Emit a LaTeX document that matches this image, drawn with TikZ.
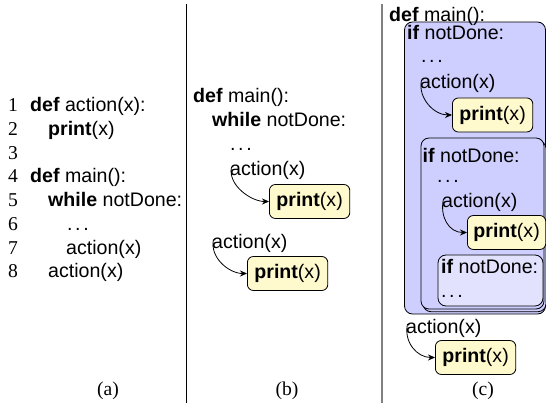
\documentclass[tikz,border=0pt]{standalone}
\usepackage{fontspec}
\setmainfont{Liberation Serif}
\setsansfont{Liberation Sans}
\usetikzlibrary{arrows.meta}

\definecolor{printfill}{RGB}{255,250,205}
\definecolor{loopfill}{RGB}{206,206,255}
\definecolor{innerfill}{RGB}{226,226,255}
\newcommand{\kw}[1]{\textbf{#1}}
\newcommand{\codesize}{\fontsize{19.6}{23.5}\selectfont}
\newcommand{\elided}{.\kern2.6pt.\kern2.6pt.}

\begin{document}
\begin{tikzpicture}[x=1pt,y=-1pt,
  every node/.style={inner sep=0pt},
  code/.style={anchor=base west, font=\sffamily\codesize},
  lineno/.style={anchor=base west, font=\rmfamily\codesize},
  caption/.style={anchor=base, font=\rmfamily\codesize},
  printbox/.style={draw, line width=0.8pt, rounded corners=6pt, fill=printfill,
    font=\sffamily\codesize, inner xsep=7pt, minimum height=34pt, anchor=west},
  call/.style={-{Stealth[length=7pt,width=6pt]}, line width=0.8pt},
  loopbox/.style={draw, line width=0.8pt, rounded corners=8pt},
  separator/.style={line width=1.3pt},
]
\useasboundingbox (0,0) rectangle (546,403);

% ---------- (a) source listing ----------
\foreach \n/\y in {1/111.7,2/135.5,3/159.2,4/183,5/206.7,6/230.5,7/254.2,8/278}
  \node[lineno] (ln\n) at (8,\y) {\n};
\node[code] (a1) at (30,111.7) {\kw{def} action(x):};
\node[code] (a2) at (48,135.5) {\kw{print}(x)};
\node[code] (a4) at (30,183)   {\kw{def} main():};
\node[code] (a5) at (48,206.7) {\kw{while} notDone:};
\node[code] (a6) at (67,230.5) {\elided};
\node[code] (a7) at (66,254.2) {action(x)};
\node[code] (a8) at (48,278)   {action(x)};

% ---------- (b) inlined calls ----------
\node[code] (b1) at (193,102.5) {\kw{def} main():};
\node[code] (b2) at (212,127)   {\kw{while} notDone:};
\node[code] (b3) at (230,151)   {\elided};
\node[code] (bact1) at (230,176) {action(x)};
\node[printbox] (bp1) at (269,201.5) {\kw{print}(x)};
\node[code] (bact2) at (212,248.5) {action(x)};
\node[printbox] (bp2) at (247,273.5) {\kw{print}(x)};
\draw[call] ([shift={(1.5,-9)}]bact1.base west) .. controls +(-4,18) and +(-18,0) .. (bp1.west);
\draw[call] ([shift={(1.5,-9)}]bact2.base west) .. controls +(-4,18) and +(-18,0) .. (bp2.west);

% ---------- (c) unrolled loop ----------
\draw[loopbox, fill=loopfill] (404.5,22) rectangle (545.5,314);
\draw[loopbox, fill=loopfill] (423,140.7) rectangle (546,311.7);
\draw[loopbox, fill=loopfill] (421,138) rectangle (544,309);
\draw[loopbox, fill=innerfill] (438,255) rectangle (543,306);

\node[code] (c0) at (389,21.5) {\kw{def} main():};
\node[code] (c1) at (407,40)   {\kw{if} notDone:};
\node[code] (c2) at (421,63)   {\elided};
\node[code] (cact1) at (420,89) {action(x)};
\node[printbox] (cp1) at (452,115) {\kw{print}(x)};
\node[code] (c3) at (422.5,163) {\kw{if} notDone:};
\node[code] (c4) at (437,182.7) {\elided};
\node[code] (cact2) at (442,208) {action(x)};
\node[printbox, inner xsep=6pt] (cp2) at (467,232.5) {\kw{print}(x)};
\node[code] (c5) at (441,273) {\kw{if} notDone:};
\node[code] (c6) at (441,298) {\elided};
\node[code] (cact3) at (406,333) {action(x)};
\node[printbox] (cp3) at (435,357.5) {\kw{print}(x)};
\draw[call] ([shift={(1.5,-9)}]cact1.base west) .. controls +(-4,18) and +(-18,0) .. (cp1.west);
\draw[call] ([shift={(1.5,-9)}]cact2.base west) .. controls +(-4,18) and +(-18,0) .. (cp2.west);
\draw[call] ([shift={(1.5,-9)}]cact3.base west) .. controls +(-4,18) and +(-18,0) .. (cp3.west);

% ---------- separators and captions ----------
\coordinate (s1top) at (186.3,4);
\coordinate (s1bot) at (186.3,403);
\coordinate (s2top) at (382,4);
\coordinate (s2bot) at (382,403);
\draw[separator] (s1top) -- (s1bot);
\draw[separator, gray, line width=1.8pt] (s2top) -- (s2bot);

\node[caption] (capa) at (108,395) {(a)};
\node[caption] (capb) at (287,395) {(b)};
\node[caption] (capc) at (483,395) {(c)};
\end{tikzpicture}
\end{document}
